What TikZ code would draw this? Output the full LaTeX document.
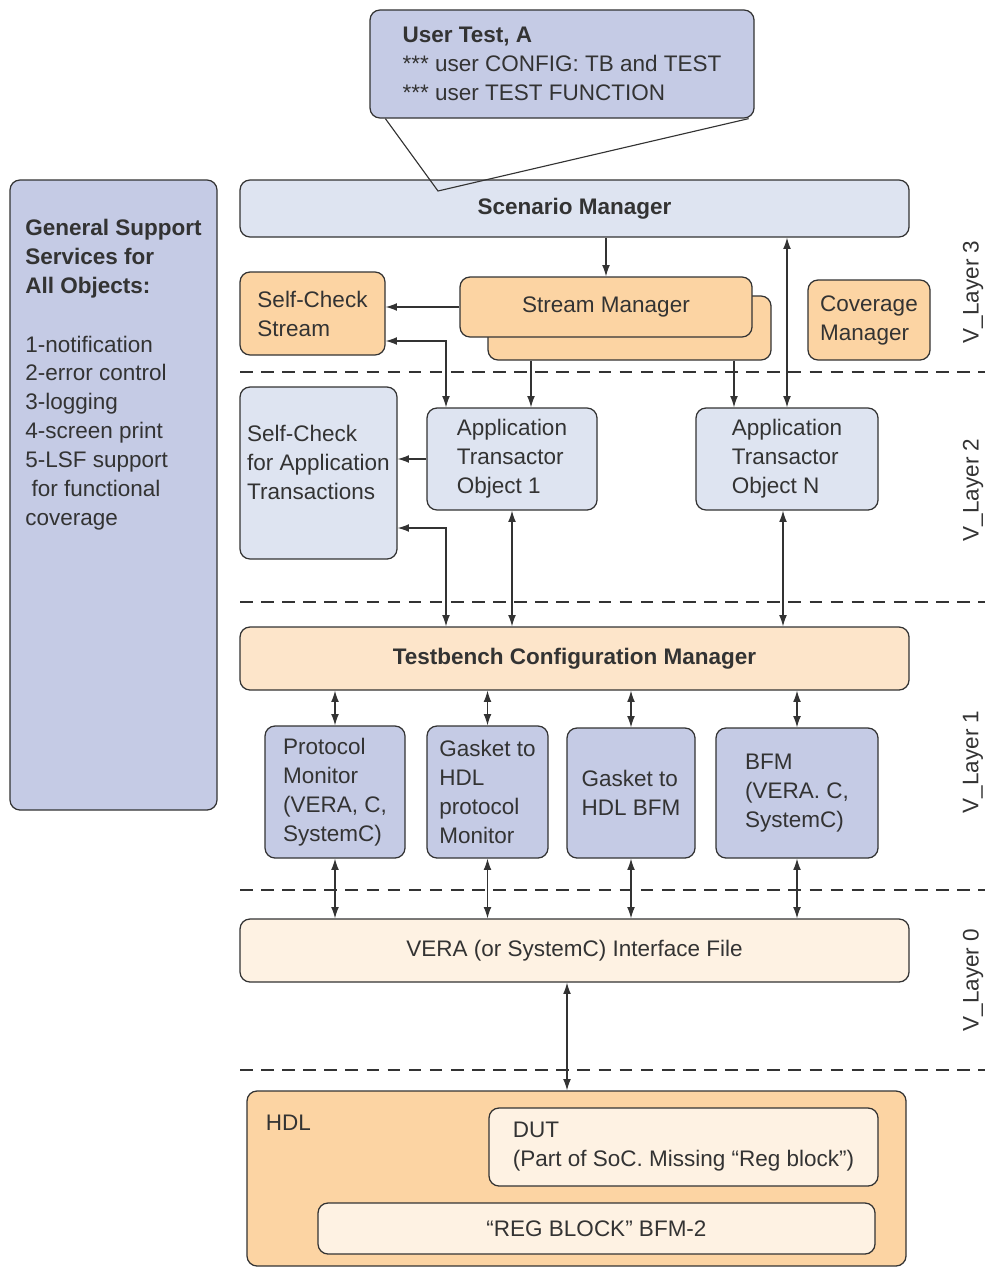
\documentclass[tikz,border=0pt]{standalone}
\usepackage{fontspec}
\setmainfont{Liberation Sans}
\usetikzlibrary{arrows.meta,%
		calc,%
		positioning}
\definecolor{lav}{HTML}{C5CBE5}
\definecolor{lblue}{HTML}{DEE4F1}
\definecolor{orng}{HTML}{FCD4A3}
\definecolor{lorng}{HTML}{FDE5CA}
\definecolor{pale}{HTML}{FEF2E3}
\definecolor{ink}{HTML}{333333}
\definecolor{edge}{HTML}{333333}

\begin{document}
\begin{tikzpicture}[x=0.025cm,y=-0.025cm,font=\fontsize{16pt}{20.6pt}\selectfont,
  box/.style={draw=edge, line width=0.9pt, rounded corners=2.5mm, inner sep=0pt, align=left, text=ink},
  span/.style n args={4}{minimum width={(#3-#1)*0.025cm}, minimum height={(#4-#2)*0.025cm},
    at={({(#1+#3)/2},{(#2+#4)/2})}},
  arr/.style={-{Latex[length=8pt,width=5.5pt]}, line width=0.8pt, draw=edge},
  dbl/.style={{Latex[length=8pt,width=5.5pt]}-{Latex[length=8pt,width=5.5pt]}, line width=0.8pt, draw=edge},
  sep/.style={draw=edge, dash pattern=on 9pt off 6pt, line width=0.8pt}]
  \useasboundingbox (0,0) rectangle (996,1268);

  % layer separators
  \foreach \y in {372,602,890,1070}
    \draw[sep] (240,\y) -- (985,\y);

  % user test and support services
  \node[box, fill=lav, span={370}{10}{754}{118}] (user) {\textbf{User Test, A}\\{}*** user CONFIG: TB and TEST\\{}*** user TEST FUNCTION};
  \node[box, fill=lav, span={10}{180}{217}{810}] (supp) {};
  \node[anchor=north west, inner sep=0pt, align=left, text=ink] (supptext) at (25,219)
    {\textbf{General Support}\\ \textbf{Services for}\\ \textbf{All Objects:}\\[21pt]
     1-notification\\ 2-error control\\ 3-logging\\ 4-screen print\\ 5-LSF support\\ \ for functional\\ coverage};

  % V_Layer 3
  \node[box, fill=lblue, span={240}{180}{909}{237}] (scen) {\textbf{Scenario Manager}};
  \node[box, fill=orng, span={240}{272}{385}{355}] (scs) {Self-Check\\Stream};
  \node[box, fill=orng, span={488}{296}{771}{360}] (smB) {};
  \node[box, fill=orng, span={460}{277}{752}{337}] (sm) {Stream Manager};
  \node[box, fill=orng, span={808}{280}{930}{360}] (cov) {Coverage\\Manager};

  \coordinate (tip) at (438,191);
  \draw[line width=0.8pt, draw=edge] ($(user.south west)+(16,0)$) -- (tip) -- ($(user.south east)+(-6,0)$);

  % V_Layer 2
  \node[box, fill=lblue, span={240}{387}{397}{559}] (sca) {Self-Check\\for Application\\Transactions\\[-6pt]\mbox{}};
  \node[box, fill=lblue, span={427}{408}{597}{510}] (ato1) {Application\\Transactor\\Object 1};
  \node[box, fill=lblue, span={696}{408}{878}{510}] (aton) {Application\\Transactor\\Object N};

  % V_Layer 1
  \node[box, fill=lorng, span={240}{627}{909}{690}] (tcm) {\textbf{Testbench Configuration Manager}};
  \node[box, fill=lav, span={265}{726}{405}{858}] (pm) {Protocol\\Monitor\\(VERA, C,\\SystemC)};
  \node[box, fill=lav, span={427}{726}{548}{858}] (g1) {Gasket to\\HDL\\protocol\\Monitor};
  \node[box, fill=lav, span={567}{728}{695}{858}] (g2) {Gasket to\\HDL BFM};
  \node[box, fill=lav, span={716}{728}{878}{858}] (bfm) {BFM\\(VERA. C,\\SystemC)};

  % V_Layer 0 and HDL
  \node[box, fill=pale, span={240}{919}{909}{982}] (vif) {VERA (or SystemC) Interface File};
  \node[box, fill=orng, span={247}{1091}{906}{1266}] (hdl) {};
  \node[anchor=west, text=ink] (hdllab) at (261,1123) {HDL};
  \node[box, fill=pale, span={489}{1108}{878}{1186}] (dut) {DUT\\(Part of SoC. Missing “Reg block”)};
  \node[box, fill=pale, span={318}{1203}{875}{1254}] (reg) {“REG BLOCK” BFM-2};

  % layer names
  \node[rotate=90, text=ink] (l3) at (973,292) {V\_Layer 3};
  \node[rotate=90, text=ink] (l2) at (973,490) {V\_Layer 2};
  \node[rotate=90, text=ink] (l1) at (973,762) {V\_Layer 1};
  \node[rotate=90, text=ink] (l0) at (973,980) {V\_Layer 0};

  % connections
  \draw[arr] (sm.north |- scen.south) -- (sm.north);
  \draw[dbl] (787,0 |- scen.south) -- (787,0 |- aton.north);
  \draw[arr] (sm.west) -- (scs.east |- sm.west);
  \draw[dbl] (scs.east |- 0,341) -| (446,0 |- ato1.north);
  \draw[arr] (531,0 |- smB.south) -- (531,0 |- ato1.north);
  \draw[arr] (734,0 |- smB.south) -- (734,0 |- aton.north);
  \draw[arr] (ato1.west) -- (sca.east |- ato1.west);
  \draw[dbl] (sca.east |- 0,528) -| (446,0 |- tcm.north);
  \draw[dbl] (512,0 |- ato1.south) -- (512,0 |- tcm.north);
  \draw[dbl] (783,0 |- aton.south) -- (783,0 |- tcm.north);
  \foreach \b in {pm,g1,g2,bfm} {
    \draw[dbl] (\b.north |- tcm.south) -- (\b.north);
    \draw[dbl] (\b.south) -- (\b.south |- vif.north);
  }
  \draw[dbl] (567,0 |- vif.south) -- (567,0 |- hdl.north);

\end{tikzpicture}
\end{document}
